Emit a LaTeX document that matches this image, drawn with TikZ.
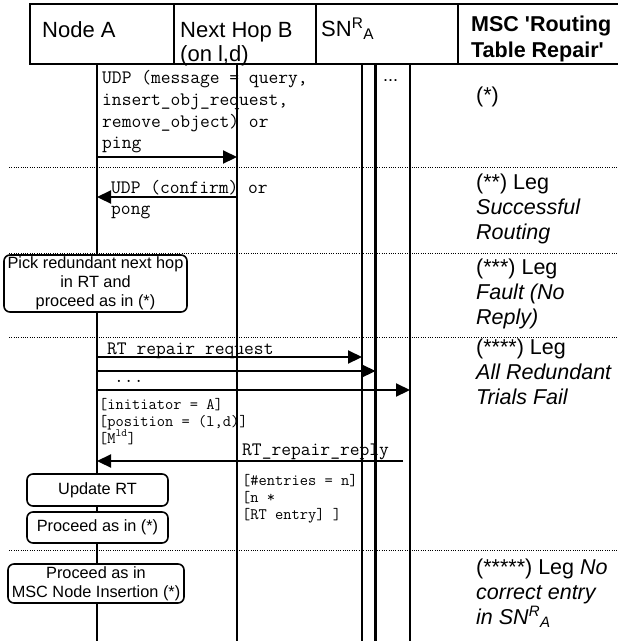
\documentclass[tikz,border=0pt]{standalone}
\usepackage{fontspec}
\setmainfont{Liberation Sans}
\usetikzlibrary{arrows.meta}

\tikzset{
  lifeline/.style={line width=2.4pt},
  msg/.style={line width=2.2pt,-{Triangle[length=14pt,width=13pt]}},
  legline/.style={line width=1pt,dash pattern=on 1pt off 1.3pt},
  head/.style={inner sep=0pt,anchor=base west,align=left,font=\fontsize{22}{24.5}\selectfont},
  leg/.style={inner sep=0pt,anchor=base west,align=left,font=\fontsize{21.5}{25}\selectfont},
  code/.style={inner sep=0pt,anchor=base west,align=left,font=\ttfamily\fontsize{19}{21.7}\selectfont},
  smallcode/.style={inner sep=0pt,anchor=base west,align=left,font=\ttfamily\fontsize{16}{17}\selectfont},
  action/.style={draw,line width=1.6pt,rounded corners=6pt,fill=white,inner sep=0pt,
    align=center,font=\fontsize{16.3}{19}\selectfont},
}

\begin{document}
\begin{tikzpicture}[x=1pt,y=-1pt]
  \useasboundingbox (0,0) rectangle (618,641);

  % header row (base of multi-line nodes = last line)
  \draw[line width=2.4pt] (618,4) -- (30,4) -- (30,64) -- (618,64);
  \foreach \x in {174,316,458} \draw[line width=2.4pt] (\x,4) -- (\x,64);
  \node[head] (hA) at (42,37.4) {Node A};
  \node[head] (hB) at (180,61.9) {Next Hop B\\(on l,d)};
  \node[head] (hS) at (321,36) {SN\textsuperscript{R}\textsubscript{A}};
  \node[head,font=\bfseries\fontsize{21.5}{26}\selectfont] (hM) at (471,57.7)
    {MSC \textquotesingle Routing\\Table Repair\textquotesingle};

  % legs
  \foreach \y in {167,253,337,550} \draw[legline] (9,\y) -- (618,\y);
  \node[leg] (leg1) at (476,102.6) {(*)};
  \node[leg] (leg2) at (476,239) {(**) Leg\\\textit{Successful}\\\textit{Routing}};
  \node[leg] (leg3) at (476,324) {(***) Leg\\\textit{Fault (No}\\\textit{Reply)}};
  \node[leg] (leg4) at (476,404) {(****) Leg\\\textit{All Redundant}\\\textit{Trials Fail}};
  \node[leg] (leg5) at (476,624) {(*****) Leg \textit{No}\\\textit{correct entry}\\\textit{in SN\textsuperscript{R}\textsubscript{A}}};

  % lifelines
  \coordinate (lA) at (97,64);
  \coordinate (lB) at (237,64);
  \coordinate (lS1) at (362,64);
  \coordinate (lS2) at (375.5,64);
  \coordinate (lS3) at (410,64);
  \coordinate (bot) at (0,641);
  \foreach \l in {lA,lB,lS1,lS2,lS3} \draw[lifeline] (\l) -- (\l |- bot);
  \node[inner sep=0pt,anchor=base west,font=\fontsize{18}{20}\selectfont] (more) at (383,81) {...};

  % query / ping and the reply
  \coordinate (m1) at (0,157);
  \coordinate (m2) at (0,197);
  \node[code] (q) at (102,148.9) {UDP (message = query,\\insert\_obj\_request,\\remove\_object) or\\ping};
  \draw[msg] (lA |- m1) -- (lB |- m1);
  \node[code] (c) at (111,214.7) {UDP (confirm) or\\pong};
  \draw[msg] (lB |- m2) -- (lA |- m2);

  \node[action,minimum width=183pt,minimum height=57pt] (pick) at (95.5,283.5)
    {Pick redundant next hop\\in RT and\\proceed as in (*)};

  % repair requests to all SN
  \coordinate (r1) at (0,357);
  \coordinate (r2) at (0,371);
  \coordinate (r3) at (0,390);
  \node[code] (req) at (107,354) {RT repair request};
  \draw[msg] (lA |- r1) -- (lS1 |- r1);
  \draw[msg] (lA |- r2) -- (lS2 |- r2);
  \node[code] (dots) at (114,382) {...};
  \draw[msg] (lA |- r3) -- (lS3 |- r3);
  \node[smallcode] (args) at (99,443) {{[}initiator = A]\\{[}position = (l,d)]\\{[}M\textsuperscript{ld}]};

  % repair reply
  \coordinate (rep) at (403,461);
  \node[code] (repl) at (242,455.5) {RT\_repair\_reply};
  \draw[msg] (rep) -- (lA |- rep);
  \node[smallcode] (ent) at (242,519) {{[}\#entries = n]\\{[}n *\\{[}RT entry] ]};

  \node[action,minimum width=141pt,minimum height=32pt] (upd) at (97.5,490) {Update RT};
  \node[action,minimum width=141pt,minimum height=31pt] (proc) at (97.5,527.5) {Proceed as in (*)};
  \node[action,minimum width=176pt,minimum height=39pt] (ins) at (96,583.5)
    {Proceed as in\\MSC Node Insertion (*)};
\end{tikzpicture}
\end{document}
